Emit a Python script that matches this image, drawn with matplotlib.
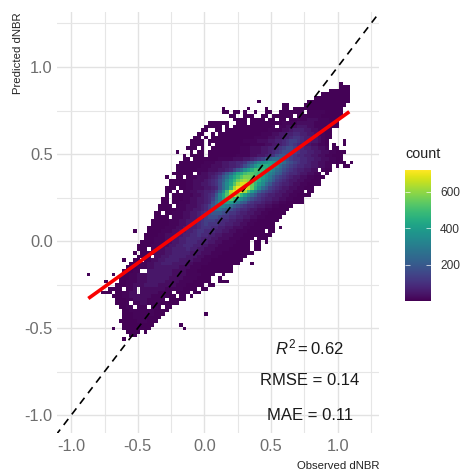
import numpy as np
import matplotlib
matplotlib.use('Agg')
import matplotlib.pyplot as plt
from matplotlib.colors import Normalize

plt.rcParams['font.family'] = ['Liberation Sans', 'DejaVu Sans']
plt.rcParams['mathtext.fontset'] = 'custom'
plt.rcParams['mathtext.rm'] = 'Liberation Sans'
plt.rcParams['mathtext.it'] = 'Liberation Sans:italic'

# Bin layout
bin_x0 = -0.884
bin_w = 0.0267
bin_y_top = 0.916
bin_h = 0.0207
n_cols = 75

# One letter per bin, top row first: (first column, counts). See level_counts.
level_chars = '0123456789abcdefghijklmnopqrst'
level_counts = [4, 12, 25, 45, 65, 85, 110, 135, 165, 195, 225, 255, 285, 315, 345,
                375, 400, 425, 450, 475, 500, 525, 550, 575, 600, 625, 650, 675, 700, 718]

bin_rows = [
    [(71, "0")],
    [(71, "000")],
    [(68, "000"), (71, "000")],
    [(66, "00000000")],
    [(64, "0000000000")],
    [(48, "0"), (62, "000000000000")],
    [(55, "00"), (61, "000000000000")],
    [(38, "0"), (45, "0"), (50, "0"), (55, "00"), (58, "00000000000000")],
    [(38, "00"), (41, "00"), (44, "0"), (47, "0"), (50, "00"), (54, "000000111111100000")],
    [(40, "00"), (44, "000"), (49, "00"), (52, "00000001111111000000")],
    [(41, "0000"), (46, "0000000"), (54, "00"), (57, "00111222111000")],
    [(34, "0000000"), (42, "00000000000001111222221111000")],
    [(33, "00000"), (39, "0"), (41, "000000000001111222333221110000")],
    [(32, "000"), (36, "00"), (39, "000000000000111122344433221100")],
    [(31, "00"), (35, "0000000000000011122334455443321100")],
    [(30, "00"), (33, "0"), (35, "0000000000001111223344566544332100")],
    [(29, "0000"), (34, "00000000001111222334456776544332100"), (72, "0")],
    [(29, "0000"), (34, "0"), (36, "0000000000111122334567654332211000"), (72, "0")],
    [(28, "000"), (32, "00"), (35, "000000001112223344567887654433221100")],
    [(25, "0"), (29, "0"), (31, "00000"), (36, "000000011122233456788876554433221100"), (72, "0")],
    [(27, "0"), (29, "0000000000000111122334568998765544332211000")],
    [(27, "000000000011112223345679abba98766554433221100")],
    [(26, "0000000111223344556"), (45, "89bdefgfedb98"), (58, "765543322111000"), (74, "0")],
    [(25, "00000001112223344568acfhiihfdb9876554433221100000")],
    [(25, "000000111222334579begikkjhfdba87654433221100")],
    [(24, "0000001122334579behikllkjhfdca97655433221100")],
    [(22, "0"), (25, "00001122234579behjlnnmkigeca87654332211000")],
    [(23, "00000112223456"), (37, "8adgjmopomkifdb97654332211000")],
    [(23, "00000112233456"), (37, "8behlprrpmjgeb976544322110000")],
    [(22, "000"), (26, "00112223345 6".replace(" ", "")), (37, "8bejpsssqmieb97654332211"), (61, "0000")],
    [(22, "0000"), (27, "1122334457aekqstspkgda87654332211"), (60, "0000")],
    [(22, "00000111223456"), (36, "9dhlpqnjgdb976544332211"), (59, "0000")],
    [(21, "0000001122334 57adhkljgeca876544332211000".replace(" ", ""))],
    [(21, "000001112233458beghgeca976554332211000"), (59, "00")],
    [(20, "000000112223457"), (35, "9bddcb9876554332211"), (54, "0000")],
    [(20, "000001112233457"), (35, "9bba9876554332211"), (52, "00000")],
    [(19, "000001112233456"), (34, "89998766544332211"), (51, "00000")],
    [(19, "000001112233457"), (34, "8887665544332211"), (50, "00000")],
    [(18, "0000011122333567"), (34, "77665544332211"), (48, "000000")],
    [(18, "0000011122334567"), (34, "6665544332211"), (47, "000000")],
    [(17, "00000111223344566"), (34, "655443322211"), (46, "0000000"), (54, "0")],
    [(13, "0"), (17, "0"), (17, "0000111223344566"), (33, "555443322111"), (45, "00000000")],
    [(16, "0000112223344"), (29, "5565"), (33, "54433222111"), (44, "000000000")],
    [(16, "000111223344"), (28, "5555"), (32, "44433222111"), (43, "00000000")],
    [(15, "0000111223344"), (28, "555"), (31, "44433221111"), (42, "000000000")],
    [(14, "0000111223344"), (27, "555"), (30, "44332221111"), (41, "000000000")],
    [(14, "0001112233444454"), (30, "4332221111"), (40, "000000000")],
    [(13, "0000112223344444"), (29, "3332221110"), (39, "00000000")],
    [(14, "00011223344444"), (28, "333221111"), (37, "00000000")],
    [(10, "0"), (13, "00011223344443"), (27, "333221110"), (36, "00000000")],
    [(12, "00011223344433"), (26, "332211110"), (35, "00000000"), (46, "0")],
    [(11, "00011122333333"), (25, "322211100"), (34, "0000000")],
    [(10, "00011223333333"), (24, "222211100"), (33, "00000000")],
    [(0, "0"), (7, "0"), (10, "00112223333333222211110000000")],
    [(9, "00011222333333222211110000000")],
    [(5, "0"), (9, "00111222333332222111100000000"), (38, "00")],
    [(8, "0001122233332222211100000000")],
    [(6, "00"), (8, "00111222222222111110000000"), (30, "0")],
    [(4, "000"), (8, "001122222222111110000000")],
    [(7, "0"), (8, "0011222222111110000000")],
    [(8, "00011222211111100000")],
    [(8, "000111122111100000")],
    [(9, "001111111110000")],
    [(10, "0011111110000")],
    [(10, "000111111000"), (33, "0")],
    [(10, "00011110000")],
    [(9, "00000111000")],
    [(10, "000000000"), (26, "0")],
    [(7, "0"), (10, "00000000"), (27, "0")],
    [(11, "0000"), (16, "0")],
    [(12, "00")],
    [(10, "0")],
]

# Empty bins inside the cloud: (row, column)
empty_bins = [
    (11, 40), (13, 34), (14, 34), (14, 36), (15, 32), (18, 33), (19, 33), (20, 33), (21, 29),
    (25, 30), (26, 27), (29, 25), (30, 24), (31, 23), (32, 23), (33, 23), (34, 24), (36, 21), (37, 23),
    (46, 17), (47, 14), (48, 18), (49, 15), (52, 15), (52, 16), (53, 39), (57, 10), (57, 14), (58, 14), (58, 24),
    (61, 12), (62, 13), (62, 17), (62, 21), (60, 22), (16, 68), (17, 68), (18, 68), (29, 64), (29, 66),
    (30, 61), (30, 65), (43, 47), (44, 46), (45, 46), (46, 46), (44, 49), (45, 49), (41, 50), (42, 52),
    (53, 36), (53, 37), (54, 35), (54, 36), (55, 35), (55, 36), (56, 33), (57, 31), (58, 29), (59, 28), (59, 25),
    (8, 61), (9, 58), (10, 50), (11, 45), (12, 53), (25, 66), (24, 65), (23, 69), (23, 71),
]

# Summary lines
fit_x = [-0.872, 1.087]
fit_y = [-0.33, 0.743]
identity = [-1.3, 1.4]
major_ticks = [-1.0, -0.5, 0.0, 0.5, 1.0]
minor_ticks = [-0.75, -0.25, 0.25, 0.75, 1.25]
tick_labels = ['-1.0', '-0.5', '0.0', '0.5', '1.0']
count_ticks = [200, 400, 600]

# Turn the rows into a count grid
n_rows = len(bin_rows)
counts = np.full((n_rows, n_cols), np.nan)
for r, segments in enumerate(bin_rows):
    for start, levels in segments:
        for k, ch in enumerate(levels):
            if start + k < n_cols:
                counts[r, start + k] = level_counts[level_chars.index(ch)]
for r, c in empty_bins:
    counts[r, c] = np.nan
x_edges = bin_x0 + bin_w * np.arange(n_cols + 1)
y_edges = bin_y_top - bin_h * np.arange(n_rows + 1)

W, H = 461, 470
fig = plt.figure(figsize=(W / 100, H / 100), dpi=100)
ax = fig.add_axes([57 / W, 1 - 433 / H, 322 / W, 421 / H])
ax.set_xlim(-1.107, 1.31)
ax.set_ylim(-1.103, 1.316)

for s in ax.spines.values():
    s.set_visible(False)
ax.set_axisbelow(True)
ax.set_xticks(major_ticks)
ax.set_xticklabels(tick_labels)
ax.set_yticks(major_ticks)
ax.set_yticklabels(tick_labels)
ax.set_xticks(minor_ticks, minor=True)
ax.set_yticks(minor_ticks, minor=True)
ax.grid(which='major', color='#e2e2e2', lw=1.0)
ax.grid(which='minor', color='#e6e6e6', lw=0.8)
ax.tick_params(which='both', length=0)
ax.tick_params(axis='x', labelsize=11.8, labelcolor='#6e6e6e', pad=4)
ax.tick_params(axis='y', labelsize=11.8, labelcolor='#6e6e6e', pad=3)

norm = Normalize(vmin=1, vmax=718)
mesh = ax.pcolormesh(x_edges, y_edges, np.ma.masked_invalid(counts), cmap='viridis', norm=norm,
                     linewidth=0, antialiased=False, zorder=2)

ax.plot(identity, identity, color='black', lw=1.2, dashes=(4.5, 3.5), zorder=3)
ax.plot(fit_x, fit_y, color='#f80000', lw=2.6, solid_capstyle='butt', zorder=4)

ax.text(0.79, -0.61, r'$\mathit{R}^{2}=\mathrm{0.62}$', fontsize=12, ha='center', va='center', color='#1a1a1a')
ax.text(0.79, -0.80, 'RMSE = 0.14', fontsize=12, ha='center', va='center', color='#1a1a1a')
ax.text(0.79, -1.00, 'MAE = 0.11', fontsize=12, ha='center', va='center', color='#1a1a1a')

ax.set_xlabel('Observed dNBR', loc='right', fontsize=8.2, labelpad=5, color='#222222')
ax.set_ylabel('Predicted dNBR', loc='top', fontsize=8.2, labelpad=1.5, color='#222222')

# Colour bar legend
cax = fig.add_axes([405 / W, 1 - 301 / H, 26 / W, 131 / H])
cbar = fig.colorbar(mesh, cax=cax)
cbar.outline.set_visible(False)
cbar.set_ticks(count_ticks)
cax.tick_params(length=0, labelsize=8.6, labelcolor='#333333', pad=6.5)
tf = cax.get_yaxis_transform()
cax.hlines(count_ticks, 0, 0.2, color='white', lw=0.6, alpha=0.8, transform=tf)
cax.hlines(count_ticks, 0.8, 1, color='white', lw=0.6, alpha=0.8, transform=tf)
fig.text(405 / W, 1 - 154 / H, 'count', fontsize=10.4, ha='left', va='center', color='#222222')

fig.savefig('out.png', dpi=100, facecolor='white')
